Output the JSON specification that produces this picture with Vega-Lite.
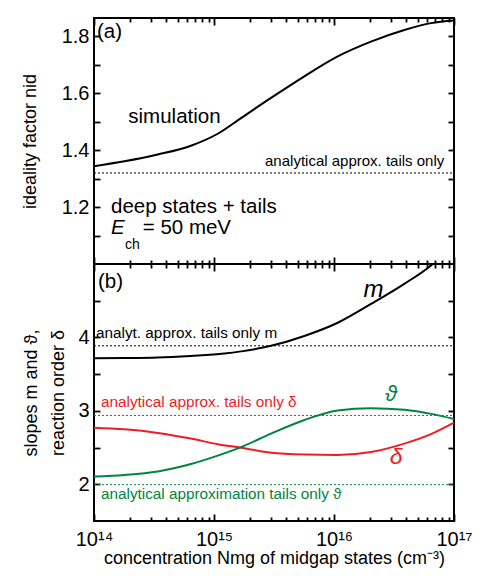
{
  "$schema": "https://vega.github.io/schema/vega-lite/v6.json",
  "padding": {"left": 20, "top": 15, "right": 5, "bottom": 5},
  "spacing": 0,
  "bounds": "flush",
  "config": {
    "font": "Liberation Sans",
    "view": {"stroke": "black", "strokeWidth": 2},
    "axis": {"grid": false, "domain": false, "ticks": true, "tickColor": "#000000", "tickWidth": 1.8, "tickOpacity": 1, "zindex": 1, "labelColor": "black", "titleColor": "black", "labelFont": "Liberation Sans", "titleFont": "Liberation Sans", "labelFontSize": 20, "titleFontSize": 18, "titleFontWeight": "normal", "labelOverlap": false, "labelFlush": false},
    "text": {"font": "Liberation Sans"}
  },
  "datasets": {
    "simA": [
      {"N": 1e14, "v": 1.344}, {"N": 1.791e14, "v": 1.361}, {"N": 3.396e14, "v": 1.385}, {"N": 6.427e14, "v": 1.416},
      {"N": 1.074e15, "v": 1.458}, {"N": 1.679e15, "v": 1.513}, {"N": 2.985e15, "v": 1.584}, {"N": 5.662e15, "v": 1.660},
      {"N": 1.074e16, "v": 1.730}, {"N": 2.032e16, "v": 1.782}, {"N": 3.855e16, "v": 1.823}, {"N": 6.427e16, "v": 1.847},
      {"N": 1e17, "v": 1.856}
    ],
    "mCurve": [
      {"N": 1e14, "v": 3.717}, {"N": 1.791e14, "v": 3.719}, {"N": 3.396e14, "v": 3.726}, {"N": 6.427e14, "v": 3.748},
      {"N": 1.219e15, "v": 3.78}, {"N": 1.679e15, "v": 3.81}, {"N": 2.985e15, "v": 3.886}, {"N": 5.662e15, "v": 4.02},
      {"N": 1.074e16, "v": 4.2}, {"N": 2.032e16, "v": 4.456}, {"N": 3.855e16, "v": 4.73}, {"N": 6.427e16, "v": 4.98},
      {"N": 7.079e16, "v": 5.04}
    ],
    "delta": [
      {"N": 1e14, "v": 2.771}, {"N": 1.791e14, "v": 2.748}, {"N": 3.396e14, "v": 2.70}, {"N": 6.427e14, "v": 2.623},
      {"N": 1.074e15, "v": 2.545}, {"N": 1.679e15, "v": 2.499}, {"N": 2.985e15, "v": 2.43}, {"N": 5.662e15, "v": 2.406},
      {"N": 1.074e16, "v": 2.40}, {"N": 2.032e16, "v": 2.44}, {"N": 3.855e16, "v": 2.554}, {"N": 6.427e16, "v": 2.683},
      {"N": 1e17, "v": 2.84}
    ],
    "theta": [
      {"N": 1e14, "v": 2.106}, {"N": 1.791e14, "v": 2.128}, {"N": 3.396e14, "v": 2.175}, {"N": 6.427e14, "v": 2.276},
      {"N": 1.074e15, "v": 2.39}, {"N": 1.679e15, "v": 2.506}, {"N": 2.985e15, "v": 2.69}, {"N": 5.662e15, "v": 2.876},
      {"N": 1.074e16, "v": 3.005}, {"N": 2.032e16, "v": 3.037}, {"N": 3.855e16, "v": 3.014}, {"N": 6.427e16, "v": 2.959},
      {"N": 1e17, "v": 2.89}
    ]
  },
  "vconcat": [
    {
      "width": 360,
      "height": 246,
      "resolve": {"axis": {"x": "independent", "y": "independent"}},
      "layer": [
        {
          "data": {"name": "simA"},
          "mark": {"type": "line", "color": "black", "strokeWidth": 2, "interpolate": "monotone"},
          "encoding": {
            "x": {"field": "N", "type": "quantitative", "scale": {"type": "log", "domain": [1e14, 1e17], "nice": false},
                  "axis": {"orient": "bottom", "values": [1e14, 1e15, 1e16, 1e17], "labels": false, "tickSize": 7, "offset": -7, "title": null}},
            "y": {"field": "v", "type": "quantitative", "scale": {"domain": [1.0, 1.865], "nice": false, "zero": false},
                  "axis": {"orient": "left", "values": [1.2, 1.4, 1.6, 1.8], "tickSize": 6, "offset": -6, "labelPadding": 5, "format": ".1f", "title": "ideality factor nid", "titlePadding": 22}}
          }
        },
        {
          "data": {"values": [{"N": 1e14, "v": 1.32}, {"N": 1e17, "v": 1.32}]},
          "mark": {"type": "line", "color": "black", "strokeWidth": 1, "strokeDash": [2, 2]},
          "encoding": {
            "x": {"field": "N", "type": "quantitative", "scale": {"type": "log", "domain": [1e14, 1e17], "nice": false},
                  "axis": {"orient": "bottom", "values": [2e14, 3e14, 4e14, 5e14, 6e14, 7e14, 8e14, 9e14, 2e15, 3e15, 4e15, 5e15, 6e15, 7e15, 8e15, 9e15, 2e16, 3e16, 4e16, 5e16, 6e16, 7e16, 8e16, 9e16], "labels": false, "tickSize": 4, "offset": -4, "title": null}},
            "y": {"field": "v", "type": "quantitative", "scale": {"domain": [1.0, 1.865], "nice": false, "zero": false},
                  "axis": {"orient": "left", "values": [1.1, 1.3, 1.5, 1.7], "labels": false, "tickSize": 6, "offset": -6, "title": null}}
          }
        },
        {
          "data": {"values": [
            {"N": 1.059e14, "v": 1.794, "t": "(a)"},
            {"N": 1.931e14, "v": 1.496, "t": "simulation"},
            {"N": 1.386e14, "v": 1.178, "t": "deep states + tails"},
            {"N": 2.547e14, "v": 1.104, "t": "= 50 meV"}
          ]},
          "mark": {"type": "text", "align": "left", "baseline": "alphabetic", "fontSize": 20.5, "color": "black"},
          "encoding": {
            "x": {"field": "N", "type": "quantitative", "scale": {"type": "log", "domain": [1e14, 1e17], "nice": false},
                  "axis": {"orient": "top", "values": [1e14, 1e15, 1e16, 1e17], "labels": false, "tickSize": 7, "offset": -7, "title": null}},
            "y": {"field": "v", "type": "quantitative", "scale": {"domain": [1.0, 1.865], "nice": false, "zero": false},
                  "axis": {"orient": "right", "values": [1.2, 1.4, 1.6, 1.8], "labels": false, "tickSize": 6, "offset": -6, "title": null}},
            "text": {"field": "t"}
          }
        },
        {
          "data": {"values": [{"N": 8.30e16, "v": 1.344, "t": "analytical approx. tails only"}]},
          "mark": {"type": "text", "align": "right", "baseline": "alphabetic", "fontSize": 15, "color": "black"},
          "encoding": {
            "x": {"field": "N", "type": "quantitative", "scale": {"type": "log", "domain": [1e14, 1e17], "nice": false},
                  "axis": {"orient": "top", "values": [2e14, 3e14, 4e14, 5e14, 6e14, 7e14, 8e14, 9e14, 2e15, 3e15, 4e15, 5e15, 6e15, 7e15, 8e15, 9e15, 2e16, 3e16, 4e16, 5e16, 6e16, 7e16, 8e16, 9e16], "labels": false, "tickSize": 4, "offset": -4, "title": null}},
            "y": {"field": "v", "type": "quantitative", "scale": {"domain": [1.0, 1.865], "nice": false, "zero": false},
                  "axis": {"orient": "right", "values": [1.1, 1.3, 1.5, 1.7], "labels": false, "tickSize": 6, "offset": -6, "title": null}},
            "text": {"field": "t"}
          }
        },
        {
          "data": {"values": [{"N": 1.386e14, "v": 1.104, "t": "E"}]},
          "mark": {"type": "text", "align": "left", "baseline": "alphabetic", "fontSize": 20.5, "fontStyle": "italic", "color": "black"},
          "encoding": {
            "x": {"field": "N", "type": "quantitative", "scale": {"type": "log", "domain": [1e14, 1e17], "nice": false}, "axis": null},
            "y": {"field": "v", "type": "quantitative", "scale": {"domain": [1.0, 1.865], "nice": false, "zero": false}, "axis": null},
            "text": {"field": "t"}
          }
        },
        {
          "data": {"values": [{"N": 1.812e14, "v": 1.051, "t": "ch"}]},
          "mark": {"type": "text", "align": "left", "baseline": "alphabetic", "fontSize": 14, "color": "black"},
          "encoding": {
            "x": {"field": "N", "type": "quantitative", "scale": {"type": "log", "domain": [1e14, 1e17], "nice": false}, "axis": null},
            "y": {"field": "v", "type": "quantitative", "scale": {"domain": [1.0, 1.865], "nice": false, "zero": false}, "axis": null},
            "text": {"field": "t"}
          }
        }
      ]
    },
    {
      "width": 360,
      "height": 257,
      "resolve": {"axis": {"x": "independent", "y": "independent"}},
      "layer": [
        {
          "data": {"name": "mCurve"},
          "mark": {"type": "line", "color": "black", "strokeWidth": 2, "interpolate": "monotone", "clip": true},
          "encoding": {
            "x": {"field": "N", "type": "quantitative", "scale": {"type": "log", "domain": [1e14, 1e17], "nice": false},
                  "axis": {"orient": "bottom", "values": [1e14, 1e15, 1e16, 1e17], "tickSize": 7, "offset": -7, "labelPadding": 8,
                           "labelExpr": "datum.value < 5e14 ? '10¹⁴' : datum.value < 5e15 ? '10¹⁵' : datum.value < 5e16 ? '10¹⁶' : '10¹⁷'",
                           "title": "concentration Nmg of midgap states (cm⁻³)", "titlePadding": 0}},
            "y": {"field": "v", "type": "quantitative", "scale": {"domain": [1.5, 5.0], "nice": false, "zero": false},
                  "axis": {"orient": "left", "values": [2, 3, 4], "tickSize": 6, "offset": -6, "labelPadding": 5, "title": ["slopes m and ϑ,", "reaction order δ"], "titlePadding": 10, "titleLineHeight": 27}}
          }
        },
        {
          "data": {"values": [{"N": 1e14, "v": 3.886}, {"N": 1e17, "v": 3.886}]},
          "mark": {"type": "line", "color": "black", "strokeWidth": 1, "strokeDash": [2, 2]},
          "encoding": {
            "x": {"field": "N", "type": "quantitative", "scale": {"type": "log", "domain": [1e14, 1e17], "nice": false},
                  "axis": {"orient": "bottom", "values": [2e14, 3e14, 4e14, 5e14, 6e14, 7e14, 8e14, 9e14, 2e15, 3e15, 4e15, 5e15, 6e15, 7e15, 8e15, 9e15, 2e16, 3e16, 4e16, 5e16, 6e16, 7e16, 8e16, 9e16], "labels": false, "tickSize": 4, "offset": -4, "title": null}},
            "y": {"field": "v", "type": "quantitative", "scale": {"domain": [1.5, 5.0], "nice": false, "zero": false},
                  "axis": {"orient": "left", "values": [2.5, 3.5, 4.5], "labels": false, "tickSize": 6, "offset": -6, "title": null}}
          }
        },
        {
          "data": {"name": "delta"},
          "mark": {"type": "line", "color": "#ee1c25", "strokeWidth": 2, "interpolate": "monotone"},
          "encoding": {
            "x": {"field": "N", "type": "quantitative", "scale": {"type": "log", "domain": [1e14, 1e17], "nice": false},
                  "axis": {"orient": "top", "values": [1e14, 1e15, 1e16, 1e17], "labels": false, "tickSize": 7, "offset": -7, "title": null}},
            "y": {"field": "v", "type": "quantitative", "scale": {"domain": [1.5, 5.0], "nice": false, "zero": false},
                  "axis": {"orient": "right", "values": [2, 3, 4], "labels": false, "tickSize": 6, "offset": -6, "title": null}}
          }
        },
        {
          "data": {"name": "theta"},
          "mark": {"type": "line", "color": "#00843f", "strokeWidth": 2, "interpolate": "monotone"},
          "encoding": {
            "x": {"field": "N", "type": "quantitative", "scale": {"type": "log", "domain": [1e14, 1e17], "nice": false},
                  "axis": {"orient": "top", "values": [2e14, 3e14, 4e14, 5e14, 6e14, 7e14, 8e14, 9e14, 2e15, 3e15, 4e15, 5e15, 6e15, 7e15, 8e15, 9e15, 2e16, 3e16, 4e16, 5e16, 6e16, 7e16, 8e16, 9e16], "labels": false, "tickSize": 4, "offset": -4, "title": null}},
            "y": {"field": "v", "type": "quantitative", "scale": {"domain": [1.5, 5.0], "nice": false, "zero": false},
                  "axis": {"orient": "right", "values": [2.5, 3.5, 4.5], "labels": false, "tickSize": 6, "offset": -6, "title": null}}
          }
        },
        {
          "data": {"values": [{"N": 1e14, "v": 2.937}, {"N": 1e17, "v": 2.937}]},
          "mark": {"type": "line", "color": "#ee1c25", "strokeWidth": 1, "strokeDash": [2, 2]},
          "encoding": {
            "x": {"field": "N", "type": "quantitative", "scale": {"type": "log", "domain": [1e14, 1e17], "nice": false}, "axis": null},
            "y": {"field": "v", "type": "quantitative", "scale": {"domain": [1.5, 5.0], "nice": false, "zero": false}, "axis": null}
          }
        },
        {
          "data": {"values": [{"N": 1e14, "v": 1.995}, {"N": 1e17, "v": 1.995}]},
          "mark": {"type": "line", "color": "#00843f", "strokeWidth": 1, "strokeDash": [2, 2]},
          "encoding": {
            "x": {"field": "N", "type": "quantitative", "scale": {"type": "log", "domain": [1e14, 1e17], "nice": false}, "axis": null},
            "y": {"field": "v", "type": "quantitative", "scale": {"domain": [1.5, 5.0], "nice": false, "zero": false}, "axis": null}
          }
        },
        {
          "data": {"values": [{"N": 1.08e14, "v": 4.675, "t": "(b)"}]},
          "mark": {"type": "text", "align": "left", "baseline": "alphabetic", "fontSize": 20.5, "color": "black"},
          "encoding": {
            "x": {"field": "N", "type": "quantitative", "scale": {"type": "log", "domain": [1e14, 1e17], "nice": false}, "axis": null},
            "y": {"field": "v", "type": "quantitative", "scale": {"domain": [1.5, 5.0], "nice": false, "zero": false}, "axis": null},
            "text": {"field": "t"}
          }
        },
        {
          "data": {"values": [{"N": 1.04e14, "v": 3.986, "t": "analyt. approx. tails only m"}]},
          "mark": {"type": "text", "align": "left", "baseline": "alphabetic", "fontSize": 15.3, "color": "black"},
          "encoding": {
            "x": {"field": "N", "type": "quantitative", "scale": {"type": "log", "domain": [1e14, 1e17], "nice": false}, "axis": null},
            "y": {"field": "v", "type": "quantitative", "scale": {"domain": [1.5, 5.0], "nice": false, "zero": false}, "axis": null},
            "text": {"field": "t"}
          }
        },
        {
          "data": {"values": [{"N": 1.143e14, "v": 3.051, "t": "analytical approx. tails only δ"}]},
          "mark": {"type": "text", "align": "left", "baseline": "alphabetic", "fontSize": 15.3, "color": "#ee1c25"},
          "encoding": {
            "x": {"field": "N", "type": "quantitative", "scale": {"type": "log", "domain": [1e14, 1e17], "nice": false}, "axis": null},
            "y": {"field": "v", "type": "quantitative", "scale": {"domain": [1.5, 5.0], "nice": false, "zero": false}, "axis": null},
            "text": {"field": "t"}
          }
        },
        {
          "data": {"values": [{"N": 1.143e14, "v": 1.793, "t": "analytical approximation tails only ϑ"}]},
          "mark": {"type": "text", "align": "left", "baseline": "alphabetic", "fontSize": 15.3, "color": "#00843f"},
          "encoding": {
            "x": {"field": "N", "type": "quantitative", "scale": {"type": "log", "domain": [1e14, 1e17], "nice": false}, "axis": null},
            "y": {"field": "v", "type": "quantitative", "scale": {"domain": [1.5, 5.0], "nice": false, "zero": false}, "axis": null},
            "text": {"field": "t"}
          }
        },
        {
          "data": {"values": [{"N": 2.13e16, "v": 4.551, "t": "m"}]},
          "mark": {"type": "text", "align": "center", "baseline": "alphabetic", "fontSize": 24, "fontStyle": "italic", "color": "black"},
          "encoding": {
            "x": {"field": "N", "type": "quantitative", "scale": {"type": "log", "domain": [1e14, 1e17], "nice": false}, "axis": null},
            "y": {"field": "v", "type": "quantitative", "scale": {"domain": [1.5, 5.0], "nice": false, "zero": false}, "axis": null},
            "text": {"field": "t"}
          }
        },
        {
          "data": {"values": [{"N": 2.985e16, "v": 3.134, "t": "ϑ"}]},
          "mark": {"type": "text", "align": "center", "baseline": "alphabetic", "fontSize": 22, "fontStyle": "italic", "color": "#00843f"},
          "encoding": {
            "x": {"field": "N", "type": "quantitative", "scale": {"type": "log", "domain": [1e14, 1e17], "nice": false}, "axis": null},
            "y": {"field": "v", "type": "quantitative", "scale": {"domain": [1.5, 5.0], "nice": false, "zero": false}, "axis": null},
            "text": {"field": "t"}
          }
        },
        {
          "data": {"values": [{"N": 3.29e16, "v": 2.27, "t": "δ"}]},
          "mark": {"type": "text", "align": "center", "baseline": "alphabetic", "fontSize": 23, "fontStyle": "italic", "color": "#ee1c25"},
          "encoding": {
            "x": {"field": "N", "type": "quantitative", "scale": {"type": "log", "domain": [1e14, 1e17], "nice": false}, "axis": null},
            "y": {"field": "v", "type": "quantitative", "scale": {"domain": [1.5, 5.0], "nice": false, "zero": false}, "axis": null},
            "text": {"field": "t"}
          }
        }
      ]
    }
  ]
}
